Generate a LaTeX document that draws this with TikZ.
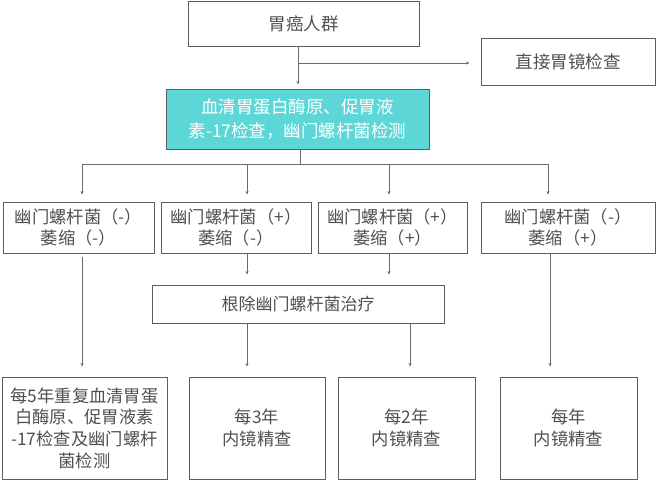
\documentclass[tikz,border=0pt]{standalone}
\usepackage{fontspec}
\setmainfont{Noto Sans CJK SC}
\usetikzlibrary{arrows.meta}
\definecolor{linec}{HTML}{6A6A6A}
\definecolor{boxc}{HTML}{5E5E5E}
\definecolor{txtc}{HTML}{505050}
\definecolor{cyanfill}{HTML}{5CD6D6}
\tikzset{
  box/.style={draw=boxc, line width=0.9pt, rectangle, align=center, text=txtc, inner sep=0pt, font=\fontsize{17.5}{22}\selectfont},
  midbox/.style={box, font=\fontsize{17.3}{21.7}\selectfont},
  lowbox/.style={box, font=\fontsize{17.3}{21.7}\selectfont},
  cyanbox/.style={box, fill=cyanfill, text=white, font=\fontsize{17.5}{24}\selectfont},
  conn/.style={draw=linec, line width=0.7pt},
  arr/.style={conn, -{Stealth[length=3.5pt,width=3pt]}},
}
\begin{document}
\begin{tikzpicture}[x=1pt,y=-1pt]
\useasboundingbox (0,0) rectangle (657,480);
% column coordinates
\coordinate (c0) at (298,0);
\coordinate (cA) at (82,0);
\coordinate (cB) at (247,0);
\coordinate (cC) at (389,0);
\coordinate (cD) at (548,0);
\coordinate (cG) at (410,0);
\coordinate (cH) at (550,0);
% nodes
\node[box, minimum width=231pt, minimum height=45pt] (b1) at (303.5,23.5) {胃癌人群};
\node[box, minimum width=174pt, minimum height=47pt] (dir) at (568,61.5) {直接胃镜检查};
\node[cyanbox, minimum width=263pt, minimum height=60pt] (cy) at (297.5,119) {血清胃蛋白酶原、促胃液\\素-17检查，幽门螺杆菌检测};
\node[midbox, minimum width=151pt, minimum height=51pt] (A) at (78.5,227.5) {幽门螺杆菌（-）\\萎缩（-）};
\node[midbox, minimum width=150pt, minimum height=51pt] (B) at (236,227.5) {幽门螺杆菌（+）\\萎缩（-）};
\node[midbox, minimum width=149pt, minimum height=51pt] (C) at (392.5,227.5) {幽门螺杆菌（+）\\萎缩（+）};
\node[midbox, minimum width=174pt, minimum height=51pt] (D) at (568,227.5) {幽门螺杆菌（-）\\萎缩（+）};
\node[box, font=\fontsize{17}{22}\selectfont, minimum width=292pt, minimum height=38pt] (R) at (298,304) {根除幽门螺杆菌治疗};
\node[lowbox, minimum width=165pt, minimum height=102pt] (E) at (84.5,428) {每5年重复血清胃蛋\\白酶原、促胃液素\\-17检查及幽门螺杆\\菌检测};
\node[lowbox, minimum width=136pt, minimum height=102pt] (F) at (257,428) {每3年\\内镜精查};
\node[lowbox, minimum width=137pt, minimum height=102pt] (G) at (406.5,428) {每2年\\内镜精查};
\node[lowbox, minimum width=137pt, minimum height=102pt] (H) at (568.5,428) {每年\\内镜精查};
% connectors
\coordinate (j1) at (298,63);
\draw[arr, shorten >=4pt] (b1.south -| c0) -- (cy.north -| c0);
\draw[arr, shorten >=11pt] (j1) -- (j1 -| dir.west);
\coordinate (j2) at (300,164);
\draw[conn] (cy.south -| j2) -- (j2);
\draw[conn] (j2 -| cA) -- (j2 -| cD);
\draw[arr, shorten >=7pt] (j2 -| cA) -- (A.north -| cA);
\draw[arr, shorten >=7pt] (j2 -| cB) -- (B.north -| cB);
\draw[arr, shorten >=7pt] (j2 -| cC) -- (C.north -| cC);
\draw[arr, shorten >=7pt] (j2 -| cD) -- (D.north -| cD);
\draw[arr, shorten <=4pt, shorten >=10pt] (A.south -| cA) -- (E.north -| cA);
\draw[arr, shorten >=10pt] (B.south -| cB) -- (R.north -| cB);
\draw[arr, shorten >=10pt] (C.south -| cC) -- (R.north -| cC);
\draw[arr, shorten >=10pt] (R.south -| cB) -- (F.north -| cB);
\draw[arr, shorten >=10pt] (R.south -| cG) -- (G.north -| cG);
\draw[arr, shorten >=10pt] (D.south -| cH) -- (H.north -| cH);
\end{tikzpicture}
\end{document}
